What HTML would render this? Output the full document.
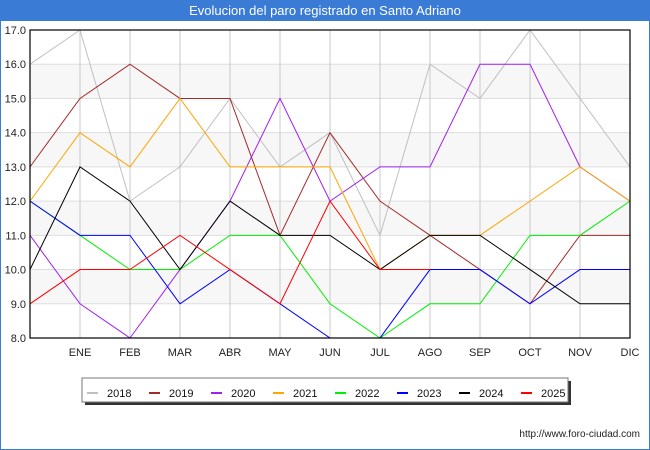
<!DOCTYPE html>
<html><head><meta charset="utf-8"><style>
body{margin:0;width:650px;height:450px;background:#fff;font-family:"Liberation Sans","DejaVu Sans",sans-serif;position:relative;overflow:hidden}
#title{position:absolute;left:0;top:0;width:650px;height:21px;background:#3a7bd5;color:#fff;font-size:13px;text-align:center;line-height:21px}
#frame{position:absolute;left:0;top:0;width:648px;height:448px;border:1px solid #3a7bd5}
</style></head><body>
<div id="frame"></div>
<div id="title">Evolucion del paro registrado en Santo Adriano</div>
<svg id="chart" width="650" height="450" style="position:absolute;left:0;top:0"></svg>
<script>
const months=["","ENE","FEB","MAR","ABR","MAY","JUN","JUL","AGO","SEP","OCT","NOV","DIC"];
const yTicks=[8,9,10,11,12,13,14,15,16,17];
const years=["2018","2019","2020","2021","2022","2023","2024","2025"];
const colors=["#c0c0c0","#a52a2a","#a020f0","#ffa500","#00ee00","#0000ff","#000000","#ff0000"];
const s2018=[16,17,12,13,15,13,14,11,16,15,17,15,13];
const s2019=[13,15,16,15,15,11,14,12,11,10,9,11,11];
const s2020=[11,9,8,10,12,15,12,13,13,16,16,13,12];
const s2021=[12,14,13,15,13,13,13,10,11,11,12,13,12];
const s2022=[12,11,10,10,11,11,9,8,9,9,11,11,12];
const s2023=[12,11,11,9,10,9,8,8,10,10,9,10,10];
const s2024=[10,13,12,10,12,11,11,10,11,11,10,9,9];
const s2025=[9,10,10,11,10,9,12,10,10];
const series=[s2018,s2019,s2020,s2021,s2022,s2023,s2024,s2025];
const svg=document.getElementById('chart');const NS="http://www.w3.org/2000/svg";
const L=30,R=630,T=30,B=338,ymin=8,ymax=17;
const x=i=>L+i*(R-L)/(months.length-1);
const y=v=>B-(v-ymin)*(B-T)/(ymax-ymin);
function mk(t,a){const e=document.createElementNS(NS,t);for(const k in a)e.setAttribute(k,a[k]);svg.appendChild(e);return e;}
for(let i=0;i<yTicks.length-1;i++){
 if(i%2==1){const r=mk('rect',{x:L,y:y(yTicks[i+1]),width:R-L,height:y(yTicks[i])-y(yTicks[i+1]),fill:'#f7f7f7'});
 
 }
}
yTicks.forEach(v=>{const g=mk('line',{x1:L,x2:R,y1:y(v),y2:y(v),stroke:'#dddddd'});
 
 
 const t=mk('text',{x:L-4,y:y(v)+4,'text-anchor':'end','font-size':'11',fill:'#222'});t.textContent=v.toFixed(1);
 
 });
months.forEach((m,i)=>{if(i==0)return;const g=mk('line',{x1:x(i),x2:x(i),y1:T,y2:B,stroke:'#c8c8c8'});
 
 
 const t=mk('text',{x:x(i),y:B+18,'text-anchor':'middle','font-size':'11',fill:'#222'});t.textContent=m;
 
 });
series.forEach((s,k)=>{const p=mk('polyline',{points:s.map((v,i)=>x(i)+','+y(v)).join(' '),fill:'none',stroke:colors[k],'stroke-width':'1'});
 
 });
const fr=mk('rect',{x:L,y:T,width:R-L,height:B-T,fill:'none',stroke:'#000','stroke-width':'1.2'});


const sh=mk('rect',{x:85,y:381,width:486,height:24,fill:'#333'});


const lb=mk('rect',{x:82,y:378,width:486,height:24,fill:'#fff',stroke:'#777'});


years.forEach((yr,k)=>{const lx=87+k*62;
 const m=mk('line',{x1:lx,x2:lx+11,y1:393,y2:393,stroke:colors[k],'stroke-width':'2'});
 
 
 const t=mk('text',{x:lx+20,y:397,'font-size':'11',fill:'#111'});t.textContent=yr;
 
 });
const u=mk('text',{x:640,y:437,'text-anchor':'end','font-size':'10',fill:'#222'});u.textContent="http://www.foro-ciudad.com";


</script>
</body></html>
